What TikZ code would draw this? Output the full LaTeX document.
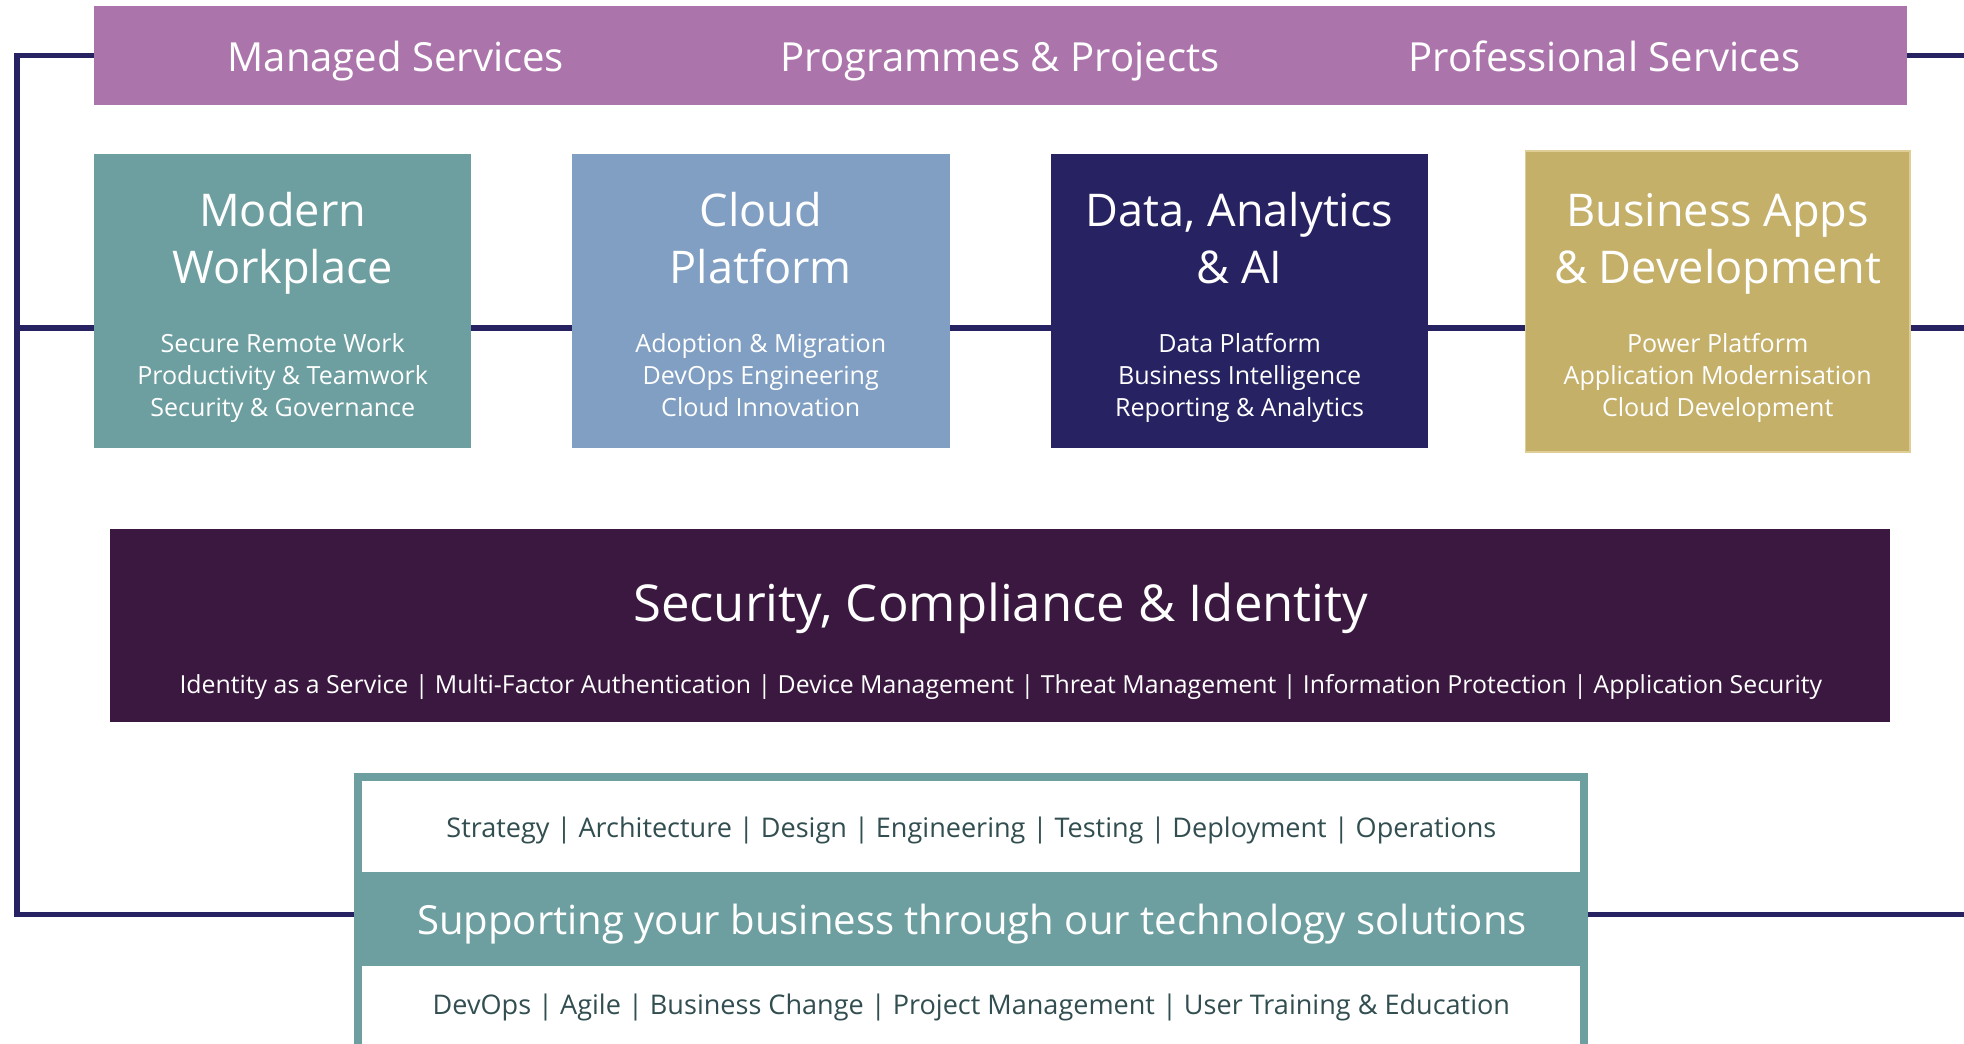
\documentclass[tikz,border=0pt]{standalone}
\usepackage{fontspec}
\setmainfont{Open Sans}
\usetikzlibrary{backgrounds}
\definecolor{bandpurple}{RGB}{171,117,172}
\definecolor{mwteal}{RGB}{110,159,160}
\definecolor{cpblue}{RGB}{128,159,194}
\definecolor{navy}{RGB}{39,34,98}
\definecolor{bagold}{RGB}{197,176,106}
\definecolor{bagoldedge}{RGB}{222,206,150}
\definecolor{secplum}{RGB}{59,24,64}
\definecolor{slatetext}{RGB}{50,78,80}
\tikzset{
  blk/.style={inner sep=0pt, outer sep=0pt, draw=none},
  txt/.style={inner sep=0pt, anchor=base, text=white},
  bandtxt/.style={txt, font=\fontsize{16}{19}\selectfont},
  titletxt/.style={txt, font=\fontsize{18}{23}\selectfont},
  subtxt/.style={txt, font=\fontsize{10}{13}\selectfont},
  conn/.style={draw=navy, line width=2.25pt, line join=miter},
}
\begin{document}
\begin{tikzpicture}[x=0.5pt, y=-0.5pt]
\useasboundingbox (0,0) rectangle (1568,833);

% top band
\node[blk, fill=bandpurple, minimum width=723.65pt, minimum height=39.4pt] (band) at (798.65,44.2) {};
\node[bandtxt] (ms) at (316,57) {Managed Services};
\node[bandtxt] (pp) at (798.5,57) {Programmes \& Projects};
\node[bandtxt] (ps) at (1281,57) {Professional Services};

% four boxes
\node[blk, fill=mwteal, minimum width=150.7pt, minimum height=117.5pt] (mw) at (225.7,240.5) {};
\node[blk, fill=cpblue, minimum width=150.95pt, minimum height=117.5pt] (cp) at (607.35,240.5) {};
\node[blk, fill=navy, minimum width=150.7pt, minimum height=117.5pt] (da) at (989.7,240.5) {};
\node[blk, fill=bagold, draw=bagoldedge, line width=0.6pt, minimum width=153.4pt, minimum height=120.1pt] (ba) at (1371.35,240.7) {};

\node[titletxt] (mwa) at (225.7,181) {Modern};
\node[titletxt] (mwb) at (225.7,226) {Workplace};
\node[subtxt] (mwc) at (225.7,281.5) {Secure Remote Work};
\node[subtxt] (mwd) at (225.7,307.2) {Productivity \& Teamwork};
\node[subtxt] (mwe) at (225.7,332.8) {Security \& Governance};

\node[titletxt] (cpa) at (607.35,181) {Cloud};
\node[titletxt] (cpb) at (607.35,226) {Platform};
\node[subtxt] (cpc) at (607.35,281.5) {Adoption \& Migration};
\node[subtxt] (cpd) at (607.35,307.2) {DevOps Engineering};
\node[subtxt] (cpe) at (607.35,332.8) {Cloud Innovation};

\node[titletxt] (daa) at (989.7,181) {Data, Analytics};
\node[titletxt] (dab) at (989.7,226) {\& AI};
\node[subtxt] (dac) at (989.7,281.5) {Data Platform};
\node[subtxt] (dad) at (989.7,307.2) {Business Intelligence};
\node[subtxt] (dae) at (989.7,332.8) {Reporting \& Analytics};

\node[titletxt] (baa) at (1371.35,181) {Business Apps};
\node[titletxt] (bab) at (1371.35,226) {\& Development};
\node[subtxt] (bac) at (1371.35,281.5) {Power Platform};
\node[subtxt] (bad) at (1371.35,307.2) {Application Modernisation};
\node[subtxt] (bae) at (1371.35,332.8) {Cloud Development};

% security band
\node[blk, fill=secplum, minimum width=710.45pt, minimum height=76.9pt] (sec) at (798.45,499.2) {};
\node[txt, font=\fontsize{20.3}{24}\selectfont] (seca) at (799,496.3) {Security, Compliance \& Identity};
\node[txt, font=\fontsize{9.92}{13}\selectfont] (secb) at (799,553.5) {Identity as a Service | Multi-Factor Authentication | Device Management | Threat Management | Information Protection | Application Security};

% bottom box
\node[draw=mwteal, line width=3.25pt, fill=white, inner sep=0pt, outer sep=0pt, minimum width=489.45pt, minimum height=109.45pt] (bot) at (775.1,730) {};
\node[blk, fill=mwteal, minimum width=492.7pt, minimum height=37.5pt] (supband) at (775.1,733.5) {};
\node[txt, text=slatetext, font=\fontsize{10.8}{14}\selectfont] (bota) at (775.5,668.3) {Strategy | Architecture | Design | Engineering | Testing | Deployment | Operations};
\node[txt, font=\fontsize{16}{19}\selectfont] (botb) at (776,746) {Supporting your business through our technology solutions};
\node[txt, text=slatetext, font=\fontsize{10.8}{14}\selectfont] (botc) at (775.5,810.3) {DevOps | Agile | Business Change | Project Management | User Training \& Education};

% connectors
\coordinate (lt) at (13.7,44.2);
\coordinate (lm) at (13.7,262);
\coordinate (lb) at (13.7,730);
\coordinate (rt) at (1568,44.2);
\coordinate (rm) at (1568,262);
\coordinate (rb) at (1568,730);
\begin{scope}[on background layer]
\draw[conn] (band.west) -- (lt) -- (lb) -- (bot.west);
\draw[conn] (lm) -- (rm);
\draw[conn] (band.east) -- (rt);
\draw[conn] (bot.east) -- (rb);
\end{scope}
\end{tikzpicture}
\end{document}
